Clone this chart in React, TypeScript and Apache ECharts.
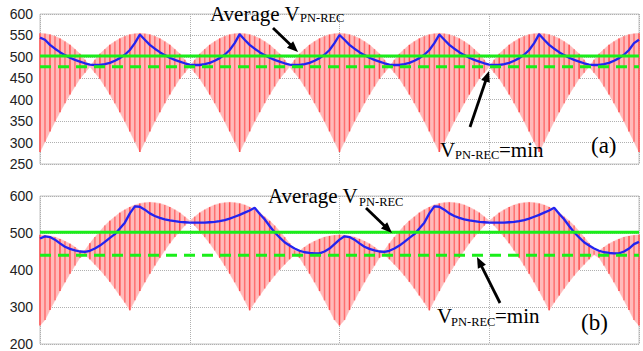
import React, { useEffect, useRef } from "react";
import * as echarts from "echarts";

// sample instants (arbitrary time units across the plotted window)
const sampleTime = [
  0, 5, 10, 15, 20, 25, 30, 35, 40, 45, 50, 55, 60, 65, 70, 75, 80, 85, 90, 95,
  100, 105, 110, 115, 120, 125, 130, 135, 140, 145, 150, 155, 160, 165, 170, 175, 180, 185, 190, 195,
  200, 205, 210, 215, 220, 225, 230, 235, 240, 245, 250, 255, 260, 265, 270, 275, 280, 285, 290, 295,
  300, 305, 310, 315, 320, 325, 330, 335, 340, 345, 350, 355, 360, 365, 370, 375, 380, 385, 390, 395,
  400, 405, 410, 415, 420, 425, 430, 435, 440, 445, 450, 455, 460, 465, 470, 475, 480, 485, 490, 495,
  500, 505, 510, 515, 520, 525, 530, 535, 540, 545, 550, 555, 560, 565, 570, 575, 580, 585, 590, 595,
  600,
];

// (a) PWM envelope of V_PN-REC: upper and lower switching levels
const topUpper = [
  555, 554, 552, 548, 543, 536, 528, 518, 507, 493, 477, 493, 507, 518, 528, 536, 543, 548, 552, 554,
  555, 554, 552, 548, 543, 536, 528, 518, 507, 493, 477, 493, 507, 518, 528, 536, 543, 548, 552, 554,
  555, 554, 552, 548, 543, 536, 528, 518, 507, 493, 477, 493, 507, 518, 528, 536, 543, 548, 552, 554,
  555, 554, 552, 548, 543, 536, 528, 518, 507, 493, 477, 493, 507, 518, 528, 536, 543, 548, 552, 554,
  555, 554, 552, 548, 543, 536, 528, 518, 507, 493, 477, 493, 507, 518, 528, 536, 543, 548, 552, 554,
  555, 554, 552, 548, 543, 536, 528, 518, 507, 493, 477, 493, 507, 518, 528, 536, 543, 548, 552, 554,
  555,
];
const topLower = [
  278, 302, 326, 349, 371, 392, 412, 431, 449, 463, 477, 463, 449, 431, 412, 392, 371, 349, 326, 302,
  278, 302, 326, 349, 371, 392, 412, 431, 449, 463, 477, 463, 449, 431, 412, 392, 371, 349, 326, 302,
  278, 302, 326, 349, 371, 392, 412, 431, 449, 463, 477, 463, 449, 431, 412, 392, 371, 349, 326, 302,
  278, 302, 326, 349, 371, 392, 412, 431, 449, 463, 477, 463, 449, 431, 412, 392, 371, 349, 326, 302,
  278, 302, 326, 349, 371, 392, 412, 431, 449, 463, 477, 463, 449, 431, 412, 392, 371, 349, 326, 302,
  278, 302, 326, 349, 371, 392, 412, 431, 449, 463, 477, 463, 449, 431, 412, 392, 371, 349, 326, 302,
  278,
];
// (a) averaged V_PN-REC (blue)
const topAverage = [
  545, 540, 528, 519, 511, 504, 498, 493, 489, 485, 482, 481, 481, 483, 486, 491, 497, 505, 516, 532,
  552, 540, 528, 519, 511, 504, 498, 493, 489, 485, 482, 481, 481, 483, 486, 491, 497, 505, 516, 532,
  553, 540, 528, 519, 511, 504, 498, 493, 489, 485, 482, 481, 481, 483, 486, 491, 497, 505, 516, 532,
  551, 540, 528, 519, 511, 504, 498, 493, 489, 485, 482, 481, 481, 483, 486, 491, 497, 505, 516, 532,
  552, 540, 528, 519, 511, 504, 498, 493, 489, 485, 482, 481, 481, 483, 486, 491, 497, 505, 516, 532,
  553, 540, 528, 519, 511, 504, 498, 493, 489, 485, 482, 481, 481, 483, 486, 491, 497, 505, 516, 532,
  540,
];
const topAverageLevel = 502;
const topMinLevel = 477;

// (b) PWM envelope of V_PN-REC
const botUpper = [
  495, 494, 492, 489, 484, 478, 471, 462, 452, 453, 472, 489, 505, 520, 533, 544, 555, 563, 570, 576,
  580, 582, 583, 582, 580, 576, 570, 563, 555, 544, 533, 544, 555, 563, 570, 576, 580, 582, 583, 582,
  580, 576, 570, 563, 555, 544, 533, 520, 505, 489, 472, 453, 452, 462, 471, 478, 484, 489, 492, 494,
  495, 494, 492, 489, 484, 478, 471, 462, 452, 453, 472, 489, 505, 520, 533, 544, 555, 563, 570, 576,
  580, 582, 583, 582, 580, 576, 570, 563, 555, 544, 533, 544, 555, 563, 570, 576, 580, 582, 583, 582,
  580, 576, 570, 563, 555, 544, 533, 520, 505, 489, 472, 453, 452, 462, 471, 478, 484, 489, 492, 494,
  495,
];
const botLower = [
  250, 265, 292, 318, 343, 367, 390, 412, 433, 441, 429, 415, 401, 385, 368, 350, 331, 312, 291, 318,
  343, 367, 390, 412, 433, 453, 472, 489, 505, 520, 533, 520, 505, 489, 472, 453, 433, 412, 390, 367,
  343, 318, 291, 312, 331, 350, 368, 385, 401, 415, 429, 441, 433, 412, 390, 367, 343, 318, 292, 265,
  250, 265, 292, 318, 343, 367, 390, 412, 433, 441, 429, 415, 401, 385, 368, 350, 331, 312, 291, 318,
  343, 367, 390, 412, 433, 453, 472, 489, 505, 520, 533, 520, 505, 489, 472, 453, 433, 412, 390, 367,
  343, 318, 291, 312, 331, 350, 368, 385, 401, 415, 429, 441, 433, 412, 390, 367, 343, 318, 292, 265,
  250,
];
const botAverage = [
  485, 491, 489, 482, 472, 463, 457, 453, 450, 449, 452, 458, 466, 476, 487, 497, 512, 528, 553, 572,
  571, 563, 553, 546, 541, 537, 534, 532, 530, 529, 528, 528, 528, 528, 529, 530, 532, 535, 539, 544,
  549, 555, 561, 568, 552, 537, 519, 502, 488, 475, 466, 458, 452, 448, 446, 445, 445, 450, 458, 470,
  482, 491, 489, 482, 472, 463, 457, 453, 450, 449, 452, 458, 466, 476, 487, 497, 512, 528, 553, 572,
  571, 563, 553, 546, 541, 537, 534, 532, 530, 529, 528, 528, 528, 528, 529, 530, 532, 535, 539, 544,
  549, 555, 561, 568, 552, 537, 519, 502, 488, 475, 466, 458, 452, 448, 446, 445, 445, 450, 458, 470,
  476,
];
const botAverageLevel = 502;
const botMinLevel = 440;

const SERIF = "Liberation Serif";
const SANS = "Liberation Sans";

function bandSeries(idx: number, lower: number[], upper: number[]) {
  return {
    type: "custom",
    xAxisIndex: idx,
    yAxisIndex: idx,
    z: 1,
    silent: true,
    data: sampleTime.map((x, i) => [x, lower[i], upper[i]]),
    encode: { x: 0, y: [1, 2] },
    renderItem: (params: any, api: any) => {
      const i = params.dataIndex;
      if (i >= sampleTime.length - 1) return { type: "group", children: [] };
      const a = api.coord([sampleTime[i], lower[i]]);
      const b = api.coord([sampleTime[i + 1], lower[i + 1]]);
      const c = api.coord([sampleTime[i + 1], upper[i + 1]]);
      const d = api.coord([sampleTime[i], upper[i]]);
      return {
        type: "polygon",
        shape: { points: [a, b, c, d] },
        style: { fill: "#ffbaba", stroke: "#ffbaba", lineWidth: 0.5 },
      };
    },
  };
}

function pulseSeries(idx: number, lower: number[], upper: number[]) {
  return {
    type: "custom",
    xAxisIndex: idx,
    yAxisIndex: idx,
    z: 2,
    silent: true,
    data: sampleTime.map((x, i) => [x, lower[i], upper[i]]),
    encode: { x: 0, y: [1, 2] },
    renderItem: (params: any, api: any) => {
      const p1 = api.coord([api.value(0), api.value(1)]);
      const p2 = api.coord([api.value(0), api.value(2)]);
      const i = params.dataIndex;
      return {
        type: "line",
        shape: { x1: p1[0], y1: p1[1], x2: p2[0], y2: p2[1] },
        style: { stroke: i % 2 ? "#ff7070" : "#ff4f4f", lineWidth: 1.5 },
      };
    },
  };
}

function avgSeries(idx: number, values: number[]) {
  return {
    type: "line",
    xAxisIndex: idx,
    yAxisIndex: idx,
    z: 4,
    silent: true,
    showSymbol: false,
    data: sampleTime.map((x, i) => [x, values[i]]),
    lineStyle: { color: "#2323f0", width: 2.3 },
  };
}

function levelSeries(idx: number, level: number, dashed: boolean) {
  const tEnd = sampleTime[sampleTime.length - 1];
  return {
    type: "line",
    xAxisIndex: idx,
    yAxisIndex: idx,
    z: 5,
    silent: true,
    showSymbol: false,
    data: [
      [sampleTime[0], level],
      [tEnd, level],
    ],
    lineStyle: { color: "#1aee1a", width: 3, type: dashed ? [11, 7] : "solid" },
  };
}

function arrow(x1: number, y1: number, x2: number, y2: number) {
  const dx = x2 - x1;
  const dy = y2 - y1;
  const len = Math.hypot(dx, dy);
  const ux = dx / len;
  const uy = dy / len;
  const headLen = 11;
  const headW = 4.5;
  const bx = x2 - ux * headLen;
  const by = y2 - uy * headLen;
  return [
    {
      type: "line",
      shape: { x1, y1, x2: bx + ux * 2, y2: by + uy * 2 },
      style: { stroke: "#000", lineWidth: 2.8 },
      z: 100,
    },
    {
      type: "polygon",
      shape: {
        points: [
          [x2, y2],
          [bx - uy * headW, by + ux * headW],
          [bx + uy * headW, by - ux * headW],
        ],
      },
      style: { fill: "#000" },
      z: 100,
    },
  ];
}

function label(x: number, y: number, text: string, size: number) {
  return {
    type: "text",
    x,
    y,
    z: 100,
    style: {
      text,
      fontFamily: SERIF,
      fontSize: size,
      fill: "#000",
      align: "left",
      verticalAlign: "middle",
    },
  };
}

function axisPair(idx: number, min: number, max: number, interval: number) {
  const split = { show: true, lineStyle: { color: "#b0b0b0", type: "dotted", width: 1 } };
  return {
    x: {
      type: "value",
      gridIndex: idx,
      min: sampleTime[0],
      max: sampleTime[sampleTime.length - 1],
      interval: 150,
      axisLabel: { show: false },
      axisTick: { show: false },
      axisLine: { show: false },
      splitLine: split,
    },
    y: {
      type: "value",
      gridIndex: idx,
      min,
      max,
      interval,
      axisLabel: { fontFamily: SANS, fontSize: 14, color: "#222", margin: 7 },
      axisTick: { show: false },
      axisLine: { show: false },
      splitLine: split,
    },
  };
}

export default function App() {
  const ref = useRef<HTMLDivElement>(null);
  useEffect(() => {
    if (!ref.current) return;
    const chart = echarts.init(ref.current, null, { renderer: "svg" });
    const a = axisPair(0, 250, 600, 50);
    const b = axisPair(1, 200, 600, 100);
    chart.setOption({
      animation: false,
      backgroundColor: "#fff",
      grid: [
        { left: 40, right: 4, top: 14, height: 150, show: true, borderColor: "#c4c4c4", borderWidth: 1 },
        { left: 40, right: 4, top: 196, height: 152, show: true, borderColor: "#c4c4c4", borderWidth: 1 },
      ],
      xAxis: [a.x, b.x],
      yAxis: [a.y, b.y],
      series: [
        bandSeries(0, topLower, topUpper),
        pulseSeries(0, topLower, topUpper),
        avgSeries(0, topAverage),
        levelSeries(0, topAverageLevel, false),
        levelSeries(0, topMinLevel, true),
        bandSeries(1, botLower, botUpper),
        pulseSeries(1, botLower, botUpper),
        avgSeries(1, botAverage),
        levelSeries(1, botAverageLevel, false),
        levelSeries(1, botMinLevel, true),
      ],
      graphic: [
        // (a)
        label(210, 14, "Average V", 21),
        label(300, 17.5, "PN-REC", 12.5),
        ...arrow(273, 28, 298, 52),
        label(440, 150, "V", 21),
        label(455, 154.5, "PN-REC", 12.5),
        label(499, 150, "=min", 21),
        ...arrow(470, 127, 489, 71),
        label(591, 145, "(a)", 23),
        // (b)
        label(268, 196, "Average V", 21),
        label(359, 202, "PN-REC", 12.5),
        ...arrow(366, 208, 392, 233),
        label(437, 316, "V", 21),
        label(451, 321.5, "PN-REC", 12.5),
        label(495, 316, "=min", 21),
        ...arrow(500, 303, 477, 257),
        label(581, 322, "(b)", 23),
      ],
    });
    return () => chart.dispose();
  }, []);
  return (
    <div
      ref={ref}
      style={{ position: "absolute", left: 0, top: 0, width: 643, height: 351 }}
    />
  );
}
